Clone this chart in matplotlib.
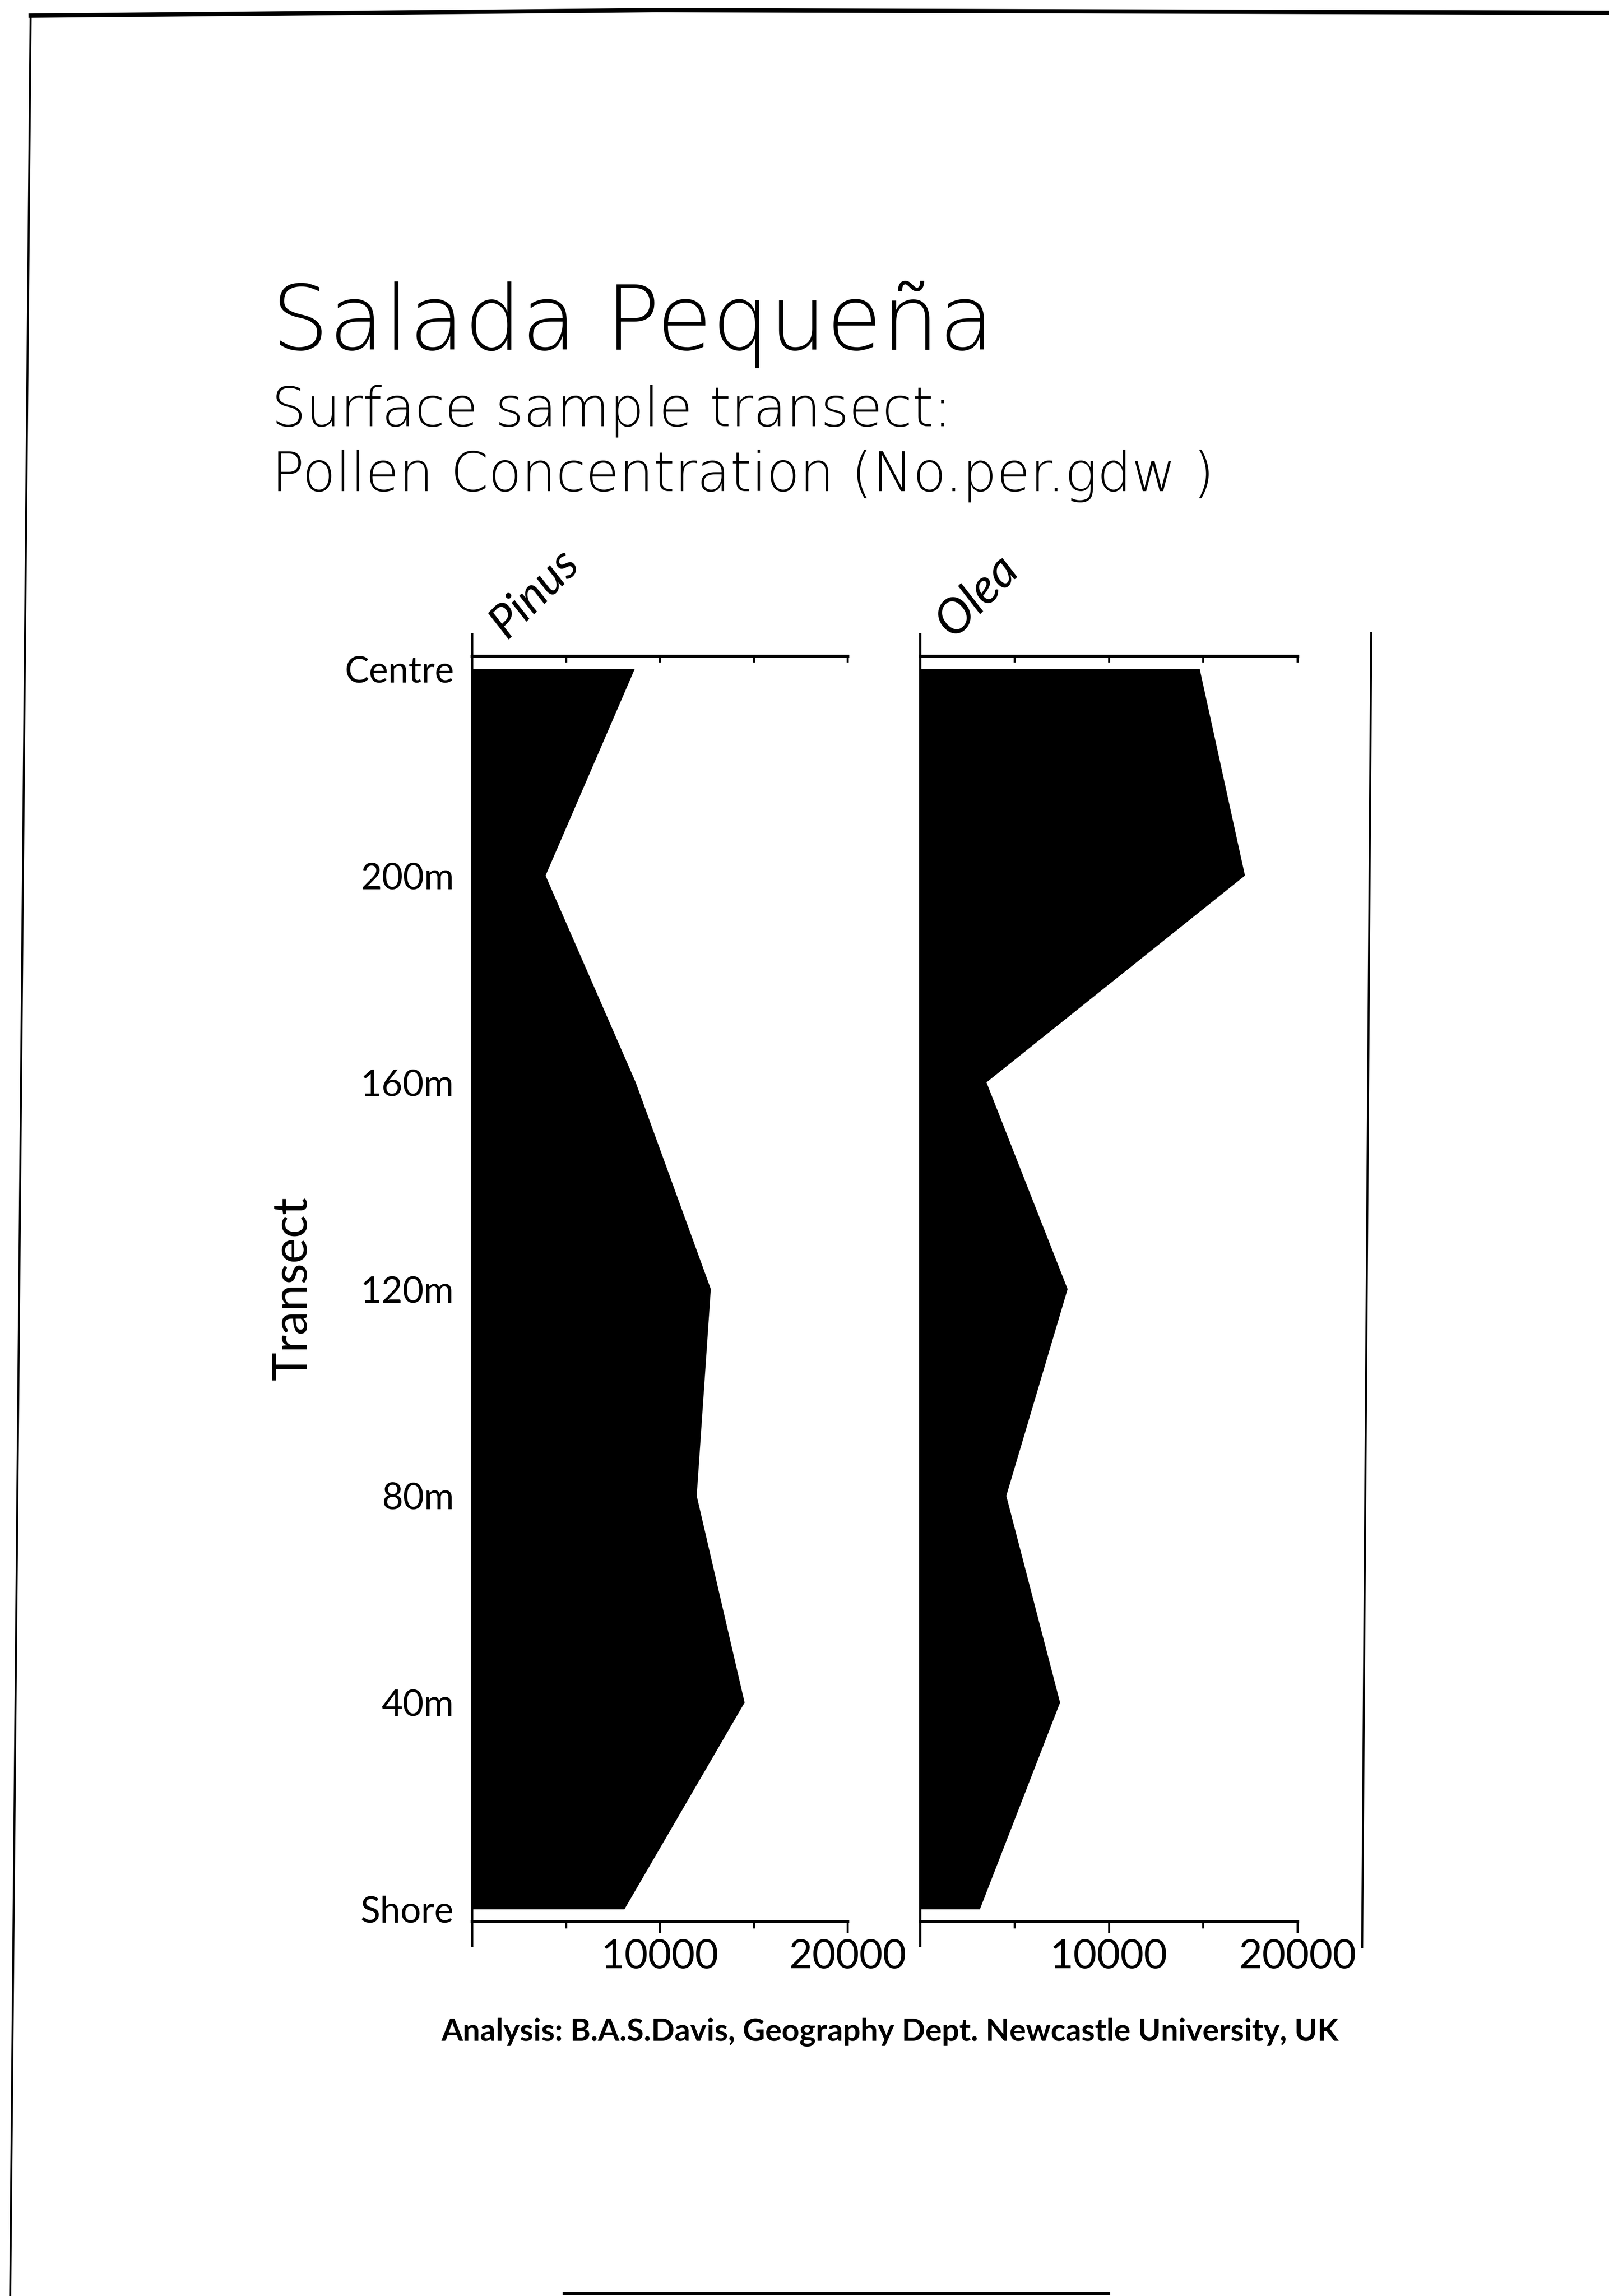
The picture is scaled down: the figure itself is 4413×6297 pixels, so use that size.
import numpy as np
import matplotlib
matplotlib.use("Agg")
import matplotlib.pyplot as plt
from matplotlib.lines import Line2D

# surface samples along the transect, lake centre (top) to shore (bottom)
transect_labels = ["Centre", "200m", "160m", "120m", "80m", "40m", "Shore"]
pinus_conc = [8650, 3900, 8700, 12700, 11950, 14500, 8100]
olea_conc = [14800, 17200, 3500, 7800, 4550, 7400, 3150]
taxa = ["Pinus", "Olea"]
x_major = [10000, 20000]
x_minor = [5000, 15000]
x_top = [5000, 10000, 15000, 20000]

W, H = 4413, 6297
plt.rcParams['font.family'] = ['Lato', 'DejaVu Sans']

fig = plt.figure(figsize=(W / 100, H / 100), dpi=100)
fig.patch.set_facecolor('white')


def fx(px):
    return px / W


def fy(py):
    return 1 - py / H


# panel boxes in page pixels: left, top, right, bottom
panels = [(1295, 1800, 2325, 5270), (2524, 1800, 3559, 5270)]
label_anchor = [(1390, 1754), (2614, 1752)]
ypos = np.arange(len(transect_labels))

for i, vals in enumerate([pinus_conc, olea_conc]):
    l, t, r, b = panels[i]
    ax = fig.add_axes([fx(l), fy(b), (r - l) / W, (b - t) / H])
    ax.fill_betweenx(ypos, 0, vals, color='black', lw=0)
    ax.set_xlim(0, 20000)
    ax.set_ylim(len(ypos) - 1 + 0.06, -0.06)

    for s in ['left', 'right']:
        ax.spines[s].set_visible(False)
    for s in ['top', 'bottom']:
        ax.spines[s].set_linewidth(6)
    # left axis line runs past the top and bottom axes
    ax.plot([0, 0], [-0.0202, 1.0184], transform=ax.transAxes, clip_on=False,
            color='black', lw=4.5, solid_capstyle='butt')

    ax.set_xticks(x_major)
    ax.set_xticklabels([str(v) for v in x_major])
    ax.set_xticks(x_minor, minor=True)
    ax.tick_params(axis='x', which='major', direction='out', length=22, width=4,
                   labelsize=80, pad=12)
    ax.tick_params(axis='x', which='minor', direction='out', length=14, width=4)

    top = ax.secondary_xaxis('top')
    top.set_xticks(x_top)
    top.set_xticklabels([])
    top.tick_params(direction='in', length=12, width=4)
    top.spines['top'].set_linewidth(6)

    ax.set_yticks(ypos)
    if i == 0:
        ax.set_yticklabels(transect_labels)
        ax.tick_params(axis='y', length=0, labelsize=72, pad=36)
    else:
        ax.set_yticklabels([])
        ax.tick_params(axis='y', length=0)

    x0, y0 = label_anchor[i]
    fig.text(fx(x0), fy(y0), taxa[i], rotation=45, rotation_mode='anchor',
             ha='left', va='baseline', style='italic',
             fontsize=92 if i == 0 else 96)

# titles
fig.text(fx(745), fy(959), "Salada Pequeña", fontsize=178, fontweight='light',
         family='DejaVu Sans', ha='left', va='baseline')
fig.text(fx(745), fy(1169), "Surface sample transect:", fontsize=107,
         fontweight='light', family='DejaVu Sans', ha='left', va='baseline')
fig.text(fx(745), fy(1347), "Pollen Concentration (No.per.gdw )", fontsize=107,
         fontweight='light', family='DejaVu Sans', ha='left', va='baseline')

fig.text(fx(803), fy(3534), "Transect", rotation=90, fontsize=95,
         ha='center', va='center')

fig.text(fx(2441), fy(5573), "Analysis: B.A.S.Davis, Geography Dept. Newcastle University, UK",
         fontsize=61, fontweight='bold', ha='center', va='center')

# scanned page frame
frame = [
    ([84, 1800, 4413], [43, 28, 35], 8.5),
    ([84, 28], [43, 6297], 4),
    ([1548, 3040], [6290, 6290], 7),
    ([3761, 3736], [1736, 5340], 4),
]
for xs, ys, w in frame:
    fig.add_artist(Line2D([fx(v) for v in xs], [fy(v) for v in ys],
                          color='black', lw=w))

fig.savefig("out.png", dpi=100, facecolor='white')
